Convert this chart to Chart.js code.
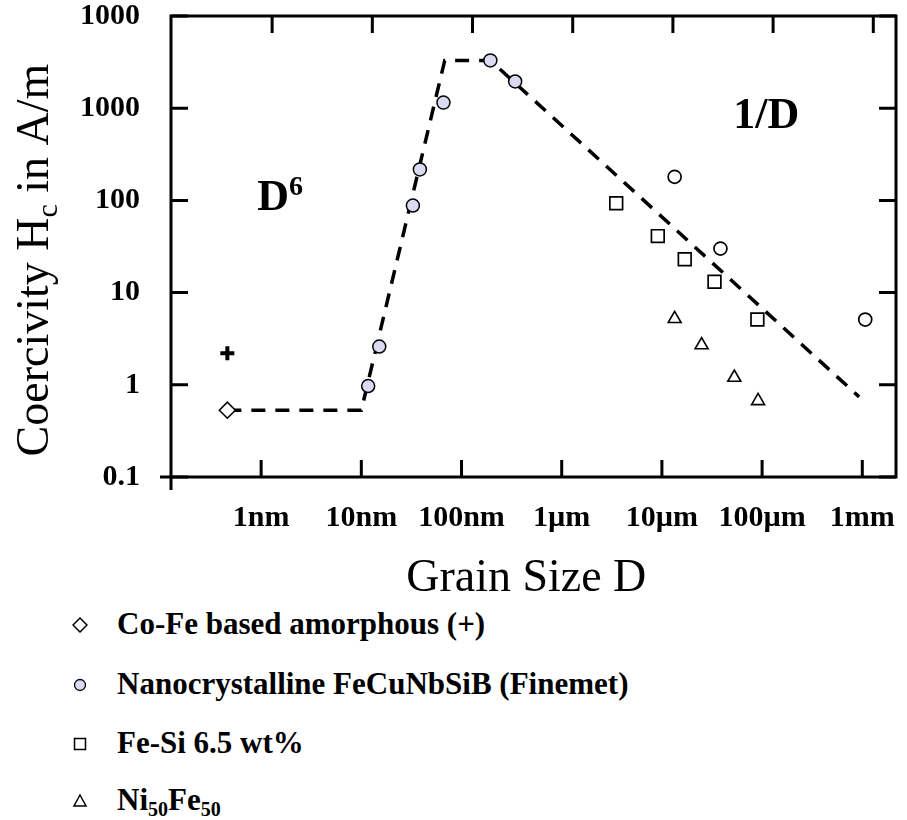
<!DOCTYPE html>
<html>
<head>
<meta charset="utf-8">
<script src="https://cdn.jsdelivr.net/npm/chart.js@4.4.0/dist/chart.umd.min.js"></script>
<style>
  body { margin: 0; background: #fff; }
  #wrap { position: relative; width: 907px; height: 820px; }
  #chartBox { position: absolute; left: 0; top: 0; width: 907px; height: 600px; }
  .row { position: absolute; left: 0; height: 36px; line-height: 36px; white-space: nowrap;
         font: bold 31px 'Liberation Serif', 'Times New Roman', serif; color: #000; }
  .row svg { position: absolute; top: 11px; }
  .row span.txt { position: absolute; left: 117px; top: 0; }
  .row sub { font-size: 20px; vertical-align: -6px; line-height: 0; }
</style>
</head>
<body>
<div id="wrap">
  <div id="chartBox"><canvas id="grafik"></canvas></div>
  <div id="legend"></div>
</div>
<script>
// Sumbu (grain size in nm, coercivity in A/m)
const xTicks = [1, 10, 100, 1e3, 1e4, 1e5, 1e6];
const xTickLabels = ['1nm', '10nm', '100nm', '1µm', '10µm', '100µm', '1mm'];
const yTicks = [0.1, 1, 10, 100, 1000, 10000];
const yTickLabels = ['0.1', '1', '10', '100', '1000', '1000'];

// Data titik
const coFeX = [0.46];
const coFeY = [0.53];
const coFePlusX = [0.46];
const coFePlusY = [2.2];
const finemetX = [11.7, 15.1, 32.7, 38.4, 66, 194, 343];
const finemetY = [0.97, 2.6, 88, 217, 1150, 3300, 1950];
const openCircleX = [13400, 38400, 1.07e6];
const openCircleY = [180, 30, 5.1];
const feSiX = [3500, 9100, 16900, 33500, 89700];
const feSiY = [93, 41, 23, 13.1, 5.1];
const niFeX = [13400, 24900, 52800, 91200];
const niFeY = [5.2, 2.7, 1.2, 0.67];

// Garis tren (D^6 dan 1/D)
const trendX = [0.46, 10, 68, 194, 9.3e5];
const trendY = [0.53, 0.53, 3300, 3300, 0.74];

const legendLabels = ['Co-Fe based amorphous (+)', 'Nanocrystalline FeCuNbSiB (Finemet)',
                      'Fe-Si 6.5 wt%', 'Ni<sub>50</sub>Fe<sub>50</sub>'];
const legendMarkers = ['diamond', 'circle', 'square', 'triangle'];

const serif = "'Liberation Serif', 'Times New Roman', serif";
const pts = (xs, ys) => xs.map((v, i) => ({ x: v, y: ys[i] }));

// Frame, inward ticks, titles and annotations
const framePlugin = {
  id: 'frame',
  afterDraw(chart) {
    const { ctx, chartArea: a, scales: { x, y } } = chart;
    ctx.save();
    ctx.strokeStyle = '#000';
    ctx.lineWidth = 3;
    ctx.lineCap = 'butt';
    ctx.strokeRect(a.left, a.top, a.right - a.left, a.bottom - a.top);
    ctx.beginPath();
    ctx.moveTo(a.left - 11, a.bottom); ctx.lineTo(a.left, a.bottom);
    ctx.moveTo(a.left, a.bottom); ctx.lineTo(a.left, a.bottom + 13);
    xTicks.forEach(v => {
      const px = x.getPixelForValue(v);
      ctx.moveTo(px, a.bottom); ctx.lineTo(px, a.bottom - 17);
      ctx.moveTo(px + 11, a.top); ctx.lineTo(px + 11, a.top + 17);
    });
    yTicks.forEach(v => {
      const py = y.getPixelForValue(v);
      ctx.moveTo(a.left, py); ctx.lineTo(a.left + 17, py);
      ctx.moveTo(a.right, py); ctx.lineTo(a.right - 17, py);
    });
    ctx.stroke();

    ctx.fillStyle = '#000';
    // x title
    ctx.font = '46px ' + serif;
    ctx.textAlign = 'center';
    ctx.textBaseline = 'alphabetic';
    ctx.fillText('Grain Size D', a.left + (a.right - a.left) * 0.49, 591);

    // y title with subscript
    ctx.save();
    ctx.translate(48, 260);
    ctx.rotate(-Math.PI / 2);
    ctx.textAlign = 'left';
    const p1 = 'Coercivity H', p2 = 'c', p3 = ' in A/m';
    ctx.font = '46px ' + serif;
    const w1 = ctx.measureText(p1).width, w3 = ctx.measureText(p3).width;
    ctx.font = '30px ' + serif;
    const w2 = ctx.measureText(p2).width;
    let cx = -(w1 + w2 + w3) / 2;
    ctx.font = '46px ' + serif;
    ctx.fillText(p1, cx, 0); cx += w1;
    ctx.font = '30px ' + serif;
    ctx.fillText(p2, cx, 9); cx += w2;
    ctx.font = '46px ' + serif;
    ctx.fillText(p3, cx, 0);
    ctx.restore();

    // annotations
    ctx.textAlign = 'left';
    ctx.font = 'bold 44px ' + serif;
    let ax = x.getPixelForValue(0.913), ay = y.getPixelForValue(78.7);
    ctx.fillText('D', ax, ay);
    const dw = ctx.measureText('D').width;
    ctx.font = 'bold 28px ' + serif;
    ctx.fillText('6', ax + dw, ay - 15);
    ctx.font = 'bold 44px ' + serif;
    ctx.fillText('1/D', x.getPixelForValue(51600), y.getPixelForValue(610));
    ctx.restore();
  }
};

const ctx = document.getElementById('grafik').getContext('2d');
new Chart(ctx, {
  type: 'scatter',
  data: {
    datasets: [
      { label: 'trend', type: 'line', data: pts(trendX, trendY), showLine: true,
        borderColor: '#000', borderWidth: 3.5, borderDash: [14, 10], pointRadius: 0,
        fill: false, tension: 0, order: 10 },
      { label: 'Co-Fe', data: pts(coFeX, coFeY), pointStyle: 'rectRot', pointRadius: 8,
        backgroundColor: '#fff', borderColor: '#000', borderWidth: 1.6 },
      { label: 'Co-Fe +', data: pts(coFePlusX, coFePlusY), pointStyle: 'cross', pointRadius: 7,
        borderColor: '#000', borderWidth: 4 },
      { label: 'Finemet', data: pts(finemetX, finemetY), pointStyle: 'circle', pointRadius: 6.5,
        backgroundColor: '#dadaf2', borderColor: '#000', borderWidth: 1.5 },
      { label: 'open', data: pts(openCircleX, openCircleY), pointStyle: 'circle', pointRadius: 6.5,
        backgroundColor: '#fff', borderColor: '#000', borderWidth: 1.7 },
      { label: 'Fe-Si', data: pts(feSiX, feSiY), pointStyle: 'rect', pointRadius: 9,
        backgroundColor: '#fff', borderColor: '#000', borderWidth: 1.7 },
      { label: 'NiFe', data: pts(niFeX, niFeY), pointStyle: 'triangle', pointRadius: 7.5,
        backgroundColor: '#fff', borderColor: '#000', borderWidth: 1.6 }
    ]
  },
  options: {
    responsive: true,
    maintainAspectRatio: false,
    animation: false,
    devicePixelRatio: 1,
    layout: { padding: { top: 16, right: 5, left: 0, bottom: 0 } },
    plugins: { legend: { display: false }, tooltip: { enabled: false } },
    scales: {
      x: {
        type: 'logarithmic', min: 0.126, max: 2.17e6,
        afterBuildTicks: s => { s.ticks = xTicks.map(v => ({ value: v })); },
        afterFit: s => { s.height = 123; s.paddingLeft = 0; s.paddingRight = 0; },
        grid: { display: false, drawTicks: false },
        border: { display: false },
        ticks: { autoSkip: false, maxRotation: 0, padding: 26, color: '#000',
                 font: { family: serif, size: 30, weight: 'bold', lineHeight: 1 },
                 callback: (v, i) => xTickLabels[i] }
      },
      y: {
        type: 'logarithmic', min: 0.1, max: 10000,
        afterBuildTicks: s => { s.ticks = yTicks.map(v => ({ value: v })); },
        afterFit: s => { s.width = 171; s.paddingTop = 0; s.paddingBottom = 0; },
        grid: { display: false, drawTicks: false },
        border: { display: false },
        ticks: { autoSkip: false, padding: 31, color: '#000',
                 font: { family: serif, size: 30, weight: 'bold', lineHeight: 1 },
                 callback: (v, i) => yTickLabels[i] }
      }
    }
  },
  plugins: [framePlugin]
});

// Legenda
const markerSvg = {
  diamond: '<polygon points="8,1 15,8 8,15 1,8" fill="#fff" stroke="#000" stroke-width="1.5"/>',
  circle: '<circle cx="8" cy="8" r="5.5" fill="#dadaf2" stroke="#000" stroke-width="1.3"/>',
  square: '<rect x="2.5" y="2.5" width="11" height="11" fill="#fff" stroke="#000" stroke-width="1.5"/>',
  triangle: '<polygon points="8,2 14,13 2,13" fill="#fff" stroke="#000" stroke-width="1.5"/>'
};
const rowCenters = [624, 684, 743, 800];
document.getElementById('legend').innerHTML = legendLabels.map((t, i) => `
  <div class="row" style="top:${rowCenters[i] - 18}px; width:907px;">
    <svg style="left:72px" width="16" height="16">${markerSvg[legendMarkers[i]]}</svg>
    <span class="txt">${t}</span>
  </div>`).join('');
</script>
</body>
</html>
